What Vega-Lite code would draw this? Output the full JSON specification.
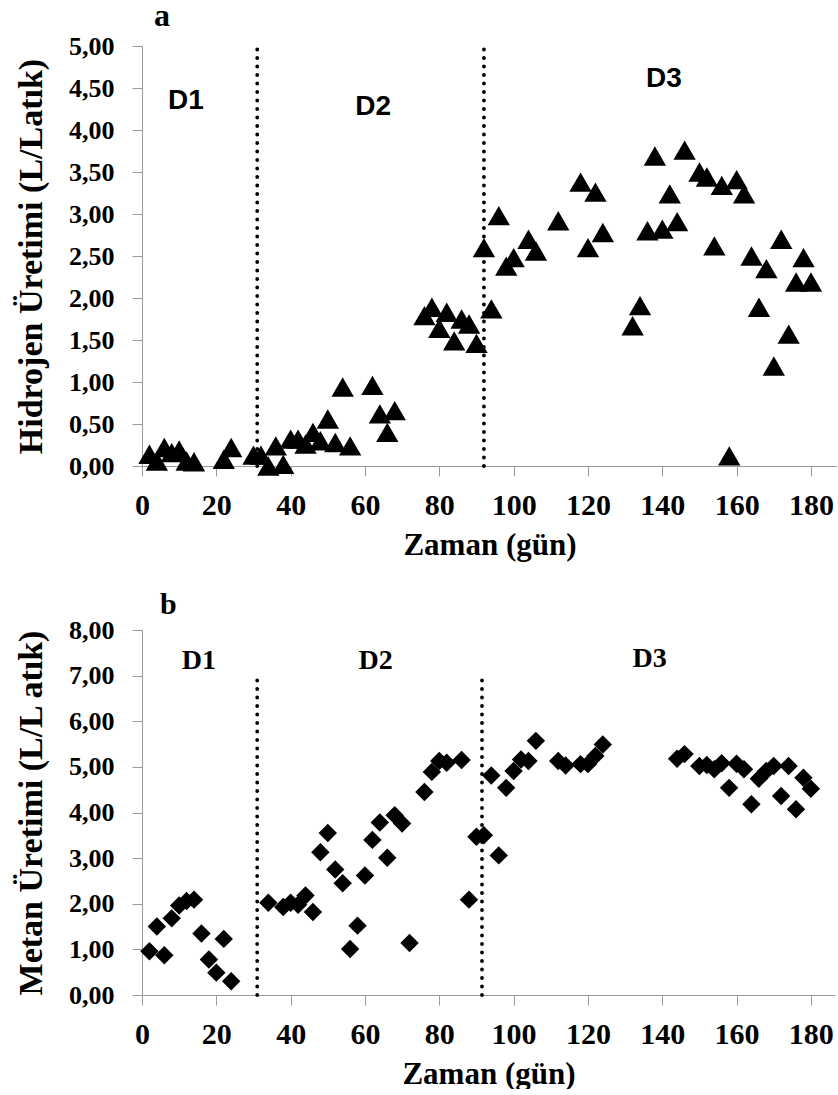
{
  "$schema": "https://vega.github.io/schema/vega-lite/v6.json",
  "padding": {"left": 14, "top": 0, "right": 0, "bottom": 0},
  "spacing": 30,
  "background": "white",
  "config": {
    "view": {"stroke": null},
    "font": "Liberation Serif",
    "style": {
      "guide-label": {"font": "Liberation Serif", "fontWeight": "bold", "fill": "black"},
      "guide-title": {"font": "Liberation Serif", "fontWeight": "bold", "fill": "black"},
      "group-title": {"font": "Liberation Serif", "fontWeight": "bold", "fill": "black"}
    },
    "axis": {
      "grid": false,
      "domainColor": "#9a9a9a",
      "tickColor": "#9a9a9a",
      "tickSize": 10,
      "labelFont": "Liberation Serif",
      "labelFontWeight": "bold",
      "labelColor": "black",
      "titleFont": "Liberation Serif",
      "titleFontWeight": "bold",
      "titleColor": "black"
    },
    "title": {"font": "Liberation Serif", "fontWeight": "bold", "color": "black"}
  },
  "datasets": {
    "h2": [
      {"day": 2, "v": 0.14}, {"day": 4, "v": 0.06}, {"day": 6, "v": 0.22}, {"day": 8, "v": 0.16},
      {"day": 10, "v": 0.19}, {"day": 12, "v": 0.06}, {"day": 14, "v": 0.05}, {"day": 22, "v": 0.08},
      {"day": 24, "v": 0.22}, {"day": 30, "v": 0.13}, {"day": 32, "v": 0.13}, {"day": 34, "v": 0.0},
      {"day": 36, "v": 0.24}, {"day": 38, "v": 0.02}, {"day": 40, "v": 0.32}, {"day": 42, "v": 0.32},
      {"day": 44, "v": 0.26}, {"day": 46, "v": 0.40}, {"day": 48, "v": 0.30}, {"day": 50, "v": 0.56},
      {"day": 52, "v": 0.28}, {"day": 54, "v": 0.94}, {"day": 56, "v": 0.24}, {"day": 62, "v": 0.96},
      {"day": 64, "v": 0.62}, {"day": 66, "v": 0.40}, {"day": 68, "v": 0.66}, {"day": 76, "v": 1.79},
      {"day": 78, "v": 1.89}, {"day": 80, "v": 1.64}, {"day": 82, "v": 1.83}, {"day": 84, "v": 1.49},
      {"day": 86, "v": 1.75}, {"day": 88, "v": 1.69}, {"day": 90, "v": 1.46}, {"day": 92, "v": 2.60},
      {"day": 94, "v": 1.87}, {"day": 96, "v": 2.98}, {"day": 98, "v": 2.38}, {"day": 100, "v": 2.48},
      {"day": 104, "v": 2.70}, {"day": 106, "v": 2.56}, {"day": 112, "v": 2.92}, {"day": 118, "v": 3.38},
      {"day": 120, "v": 2.60}, {"day": 122, "v": 3.26}, {"day": 124, "v": 2.78}, {"day": 132, "v": 1.67},
      {"day": 134, "v": 1.91}, {"day": 136, "v": 2.80}, {"day": 138, "v": 3.69}, {"day": 140, "v": 2.82},
      {"day": 142, "v": 3.24}, {"day": 144, "v": 2.91}, {"day": 146, "v": 3.76}, {"day": 150, "v": 3.50},
      {"day": 152, "v": 3.44}, {"day": 154, "v": 2.62}, {"day": 156, "v": 3.34}, {"day": 158, "v": 0.12},
      {"day": 160, "v": 3.41}, {"day": 162, "v": 3.24}, {"day": 164, "v": 2.50}, {"day": 166, "v": 1.89},
      {"day": 168, "v": 2.35}, {"day": 170, "v": 1.19}, {"day": 172, "v": 2.70}, {"day": 174, "v": 1.57},
      {"day": 176, "v": 2.19}, {"day": 178, "v": 2.48}, {"day": 180, "v": 2.19}
    ],
    "ch4": [
      {"day": 2, "v": 0.96}, {"day": 4, "v": 1.50}, {"day": 6, "v": 0.87}, {"day": 8, "v": 1.68},
      {"day": 10, "v": 1.96}, {"day": 12, "v": 2.06}, {"day": 14, "v": 2.09}, {"day": 16, "v": 1.35},
      {"day": 18, "v": 0.78}, {"day": 20, "v": 0.49}, {"day": 22, "v": 1.23}, {"day": 24, "v": 0.30},
      {"day": 34, "v": 2.02}, {"day": 38, "v": 1.93}, {"day": 40, "v": 2.02}, {"day": 42, "v": 1.98},
      {"day": 44, "v": 2.18}, {"day": 46, "v": 1.82}, {"day": 48, "v": 3.13}, {"day": 50, "v": 3.55},
      {"day": 52, "v": 2.75}, {"day": 54, "v": 2.45}, {"day": 56, "v": 1.01}, {"day": 58, "v": 1.52},
      {"day": 60, "v": 2.62}, {"day": 62, "v": 3.40}, {"day": 64, "v": 3.78}, {"day": 66, "v": 3.01},
      {"day": 68, "v": 3.94}, {"day": 70, "v": 3.76}, {"day": 72, "v": 1.14}, {"day": 76, "v": 4.45},
      {"day": 78, "v": 4.89}, {"day": 80, "v": 5.13}, {"day": 82, "v": 5.09}, {"day": 86, "v": 5.15},
      {"day": 88, "v": 2.09}, {"day": 90, "v": 3.47}, {"day": 92, "v": 3.50}, {"day": 94, "v": 4.81},
      {"day": 96, "v": 3.06}, {"day": 98, "v": 4.54}, {"day": 100, "v": 4.91}, {"day": 102, "v": 5.16},
      {"day": 104, "v": 5.13}, {"day": 106, "v": 5.57}, {"day": 112, "v": 5.13}, {"day": 114, "v": 5.03},
      {"day": 118, "v": 5.06}, {"day": 120, "v": 5.06}, {"day": 122, "v": 5.24}, {"day": 124, "v": 5.49},
      {"day": 144, "v": 5.18}, {"day": 146, "v": 5.28}, {"day": 150, "v": 5.02}, {"day": 152, "v": 5.04},
      {"day": 154, "v": 4.95}, {"day": 156, "v": 5.08}, {"day": 158, "v": 4.54}, {"day": 160, "v": 5.07},
      {"day": 162, "v": 4.95}, {"day": 164, "v": 4.18}, {"day": 166, "v": 4.74}, {"day": 168, "v": 4.91},
      {"day": 170, "v": 5.02}, {"day": 172, "v": 4.36}, {"day": 174, "v": 5.02}, {"day": 176, "v": 4.07},
      {"day": 178, "v": 4.76}, {"day": 180, "v": 4.52}
    ]
  },
  "vconcat": [
    {
      "width": 695,
      "height": 420,
      "title": {"text": "a", "anchor": "start", "frame": "group", "dx": 12, "fontSize": 32, "offset": 0, "font": "Liberation Serif"},
      "layer": [
        {
          "data": {"values": [{"day": 31, "y0": 0, "y1": 5}, {"day": 92, "y0": 0, "y1": 5}]},
          "mark": {"type": "rule", "color": "black", "strokeWidth": 3.8, "strokeDash": [0.1, 8.4], "strokeCap": "round"},
          "encoding": {
            "x": {"field": "day", "type": "quantitative"},
            "y": {"field": "y0", "type": "quantitative"},
            "y2": {"field": "y1"}
          }
        },
        {
          "data": {"name": "h2"},
          "mark": {"type": "point", "shape": "triangle-up", "filled": true, "color": "black", "size": 500, "opacity": 1},
          "encoding": {
            "x": {
              "field": "day", "type": "quantitative",
              "scale": {"domain": [0, 187], "nice": false, "zero": false},
              "axis": {"values": [0, 20, 40, 60, 80, 100, 120, 140, 160, 180], "title": "Zaman (gün)", "labelFont": "Liberation Serif", "titleFont": "Liberation Serif", "labelFontWeight": "bold", "titleFontWeight": "bold", "labelFontSize": 30, "labelPadding": 14, "titleFontSize": 31, "titlePadding": 10, "labelFlush": false}
            },
            "y": {
              "field": "v", "type": "quantitative",
              "scale": {"domain": [0, 5], "nice": false},
              "axis": {"values": [0, 0.5, 1, 1.5, 2, 2.5, 3, 3.5, 4, 4.5, 5], "labelExpr": "replace(format(datum.value, '.2f'), '.', ',')", "title": "Hidrojen Üretimi (L/Latık)", "labelFont": "Liberation Serif", "titleFont": "Liberation Serif", "labelFontWeight": "bold", "titleFontWeight": "bold", "labelFontSize": 26, "labelPadding": 18, "titleFontSize": 34, "titlePadding": 20, "labelFlush": false}
            }
          }
        },
        {
          "data": {"values": [{"day": 11.8, "v": 4.35, "label": "D1"}, {"day": 62.2, "v": 4.27, "label": "D2"}, {"day": 140.4, "v": 4.61, "label": "D3"}]},
          "mark": {"type": "text", "font": "Liberation Sans", "fontWeight": "bold", "fontSize": 28, "align": "center", "baseline": "middle", "color": "black"},
          "encoding": {
            "x": {"field": "day", "type": "quantitative"},
            "y": {"field": "v", "type": "quantitative"},
            "text": {"field": "label"}
          }
        }
      ]
    },
    {
      "width": 693,
      "height": 365,
      "title": {"text": "b", "anchor": "start", "frame": "group", "dx": 18, "fontSize": 30, "offset": -3, "font": "Liberation Serif"},
      "layer": [
        {
          "data": {"values": [{"day": 31, "y0": 0, "y1": 7}, {"day": 91.5, "y0": 0, "y1": 7}]},
          "mark": {"type": "rule", "color": "black", "strokeWidth": 3.8, "strokeDash": [0.1, 8.4], "strokeCap": "round"},
          "encoding": {
            "x": {"field": "day", "type": "quantitative"},
            "y": {"field": "y0", "type": "quantitative"},
            "y2": {"field": "y1"}
          }
        },
        {
          "data": {"name": "ch4"},
          "mark": {"type": "point", "shape": "diamond", "filled": true, "color": "black", "size": 340, "opacity": 1},
          "encoding": {
            "x": {
              "field": "day", "type": "quantitative",
              "scale": {"domain": [0, 186.5], "nice": false, "zero": false},
              "axis": {"values": [0, 20, 40, 60, 80, 100, 120, 140, 160, 180], "title": "Zaman (gün)", "labelFont": "Liberation Serif", "titleFont": "Liberation Serif", "labelFontWeight": "bold", "titleFontWeight": "bold", "labelFontSize": 30, "labelPadding": 14, "titleFontSize": 31, "titlePadding": 10, "labelFlush": false}
            },
            "y": {
              "field": "v", "type": "quantitative",
              "scale": {"domain": [0, 8], "nice": false},
              "axis": {"values": [0, 1, 2, 3, 4, 5, 6, 7, 8], "labelExpr": "replace(format(datum.value, '.2f'), '.', ',')", "title": "Metan Üretimi (L/L atık)", "labelFont": "Liberation Serif", "titleFont": "Liberation Serif", "labelFontWeight": "bold", "titleFontWeight": "bold", "labelFontSize": 26, "labelPadding": 18, "titleFontSize": 34, "titlePadding": 20, "labelFlush": false}
            }
          }
        },
        {
          "data": {"values": [{"day": 15.3, "v": 7.33, "label": "D1"}, {"day": 62.9, "v": 7.33, "label": "D2"}, {"day": 136.6, "v": 7.36, "label": "D3"}]},
          "mark": {"type": "text", "font": "Liberation Serif", "fontWeight": "bold", "fontSize": 28, "align": "center", "baseline": "middle", "color": "black"},
          "encoding": {
            "x": {"field": "day", "type": "quantitative"},
            "y": {"field": "v", "type": "quantitative"},
            "text": {"field": "label"}
          }
        }
      ]
    }
  ]
}
